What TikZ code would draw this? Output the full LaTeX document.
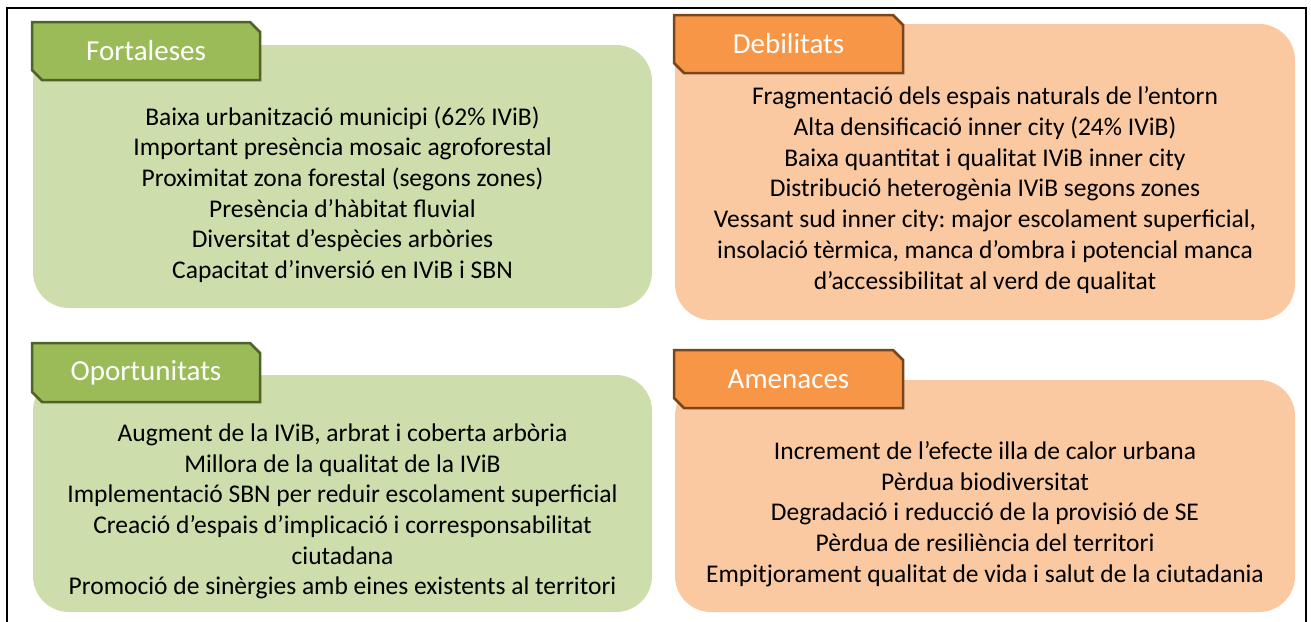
\documentclass[tikz,border=0pt]{standalone}
\usepackage{fontspec}
\setmainfont{Carlito}
\usepackage{tikz}
\frenchspacing
\definecolor{greentab}{RGB}{155,187,89}
\definecolor{greenline}{RGB}{79,98,40}
\definecolor{greenbody}{RGB}{205,221,172}
\definecolor{orangetab}{RGB}{247,150,70}
\definecolor{orangeline}{RGB}{120,70,30}
\definecolor{orangebody}{RGB}{250,201,162}

\begin{document}
\begin{tikzpicture}[x=1pt,y=-1pt]
      \useasboundingbox (0,0) rectangle (1311,621);
      \draw [line width=2pt] (7,640) -- (7,8) -- (1306,8) -- (1306,640);
      \tikzstyle {body} = [shape=rectangle, rounded corners=36pt, draw=none, inner sep=0pt];
      \tikzstyle {tab} = [line width=2.5pt, line join=miter];
      \tikzstyle {title} = [inner sep=0pt, text=white, font=\fontsize{29}{33}\selectfont];
      \tikzstyle {items} = [align=center, inner sep=0pt, font=\fontsize{25.5}{30.7}\selectfont];
      \node (fb) [body, fill=greenbody, minimum width=619pt, minimum height=263pt] at (342.5,176.5) {};
      \node (db) [body, fill=orangebody, minimum width=620pt, minimum height=296pt] at (985,172) {};
      \node (ob) [body, fill=greenbody, minimum width=619pt, minimum height=237pt] at (342.5,493.5) {};
      \node (ab) [body, fill=orangebody, minimum width=620pt, minimum height=232pt] at (985,496) {};
      \draw [tab, fill=greentab, draw=greenline] (32,22) -- (250,22) -- (260,32) -- (260,80) -- (42,80) -- (32,70) -- cycle;
      \draw [tab, fill=orangetab, draw=orangeline] (674,15) -- (893,15) -- (903,25) -- (903,73) -- (684,73) -- (674,63) -- cycle;
      \draw [tab, fill=greentab, draw=greenline] (32,343) -- (250,343) -- (260,353) -- (260,402) -- (42,402) -- (32,392) -- cycle;
      \draw [tab, fill=orangetab, draw=orangeline] (674,350) -- (893,350) -- (903,360) -- (903,408) -- (684,408) -- (674,398) -- cycle;
      \node (ft) [title] at (146,51) {Fortaleses};
      \node (dt) [title] at (788.5,44) {Debilitats};
      \node (ot) [title] at (146,372.5) {Oportunitats};
      \node (at) [title] at (788.5,379) {Amenaces};
      \node (fi) [items] at (342.5,194.5) {Baixa urbanització municipi (62\% IViB)\\Important presència mosaic agroforestal\\Proximitat zona forestal (segons zones)\\Presència d’hàbitat fluvial\\Diversitat d’espècies arbòries\\Capacitat d’inversió en IViB i SBN};
      \node (di) [items] at (985,190) {Fragmentació dels espais naturals de l’entorn\\Alta densificació inner city (24\% IViB)\\Baixa quantitat i qualitat IViB inner city\\Distribució heterogènia IViB segons zones\\Vessant sud inner city: major escolament superficial,\\insolació tèrmica, manca d’ombra i potencial manca\\d’accessibilitat al verd de qualitat};
      \node (oi) [items] at (342.5,511.5) {Augment de la IViB, arbrat i coberta arbòria\\Millora de la qualitat de la IViB\\Implementació SBN per reduir escolament superficial\\Creació d’espais d’implicació i corresponsabilitat\\ciutadana\\Promoció de sinèrgies amb eines existents al territori};
      \node (ai) [items] at (985,514) {Increment de l’efecte illa de calor urbana\\Pèrdua biodiversitat\\Degradació i reducció de la provisió de SE\\Pèrdua de resiliència del territori\\Empitjorament qualitat de vida i salut de la ciutadania};
\end{tikzpicture}
\end{document}
